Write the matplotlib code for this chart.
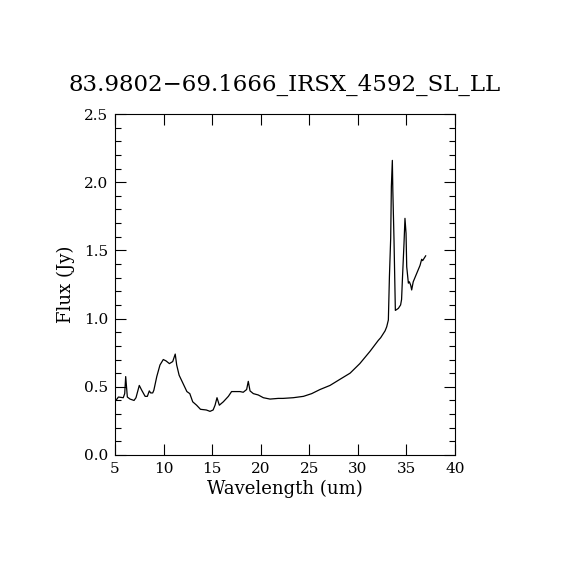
import matplotlib
matplotlib.use("Agg")
import matplotlib.pyplot as plt
from matplotlib.ticker import MultipleLocator

# spectrum
wave = [5.0, 5.2, 5.35, 5.85, 6.0, 6.1, 6.27, 6.55, 6.96, 7.16, 7.5, 7.75,
        8.1, 8.33, 8.53, 8.67, 8.88, 9.0, 9.3, 9.63, 9.97, 10.25, 10.6,
        10.94, 11.2, 11.35, 11.6, 12.1, 12.4, 12.7, 13.0, 13.4, 13.8, 14.4,
        14.78, 15.1, 15.3, 15.5, 15.74, 16.15, 16.67, 17.0, 17.87, 18.2,
        18.55, 18.72, 18.9, 19.24, 19.75, 20.27, 20.96, 21.8, 22.3, 23.35,
        24.4, 25.25, 26.1, 27.13, 28.16, 29.2, 30.2, 31.25, 32.1, 32.35,
        32.8, 32.97, 33.14, 33.25, 33.38, 33.45, 33.55, 33.6, 33.72, 33.86,
        34.17, 34.4, 34.5, 34.6, 34.75, 34.85, 34.96, 35.03, 35.2, 35.3,
        35.44, 35.54, 35.7, 36.05, 36.4, 36.57, 36.67, 36.98]
flux = [0.40, 0.41, 0.425, 0.42, 0.45, 0.575, 0.425, 0.41, 0.40, 0.42,
        0.51, 0.475, 0.43, 0.43, 0.47, 0.455, 0.455, 0.475, 0.575, 0.66,
        0.70, 0.69, 0.67, 0.685, 0.74, 0.66, 0.585, 0.51, 0.465, 0.45,
        0.39, 0.365, 0.335, 0.33, 0.32, 0.33, 0.365, 0.42, 0.365, 0.39,
        0.43, 0.465, 0.465, 0.46, 0.48, 0.54, 0.47, 0.45, 0.44, 0.42,
        0.41, 0.415, 0.415, 0.42, 0.43, 0.45, 0.48, 0.51, 0.555, 0.60,
        0.67, 0.76, 0.84, 0.86, 0.91, 0.94, 0.99, 1.31, 1.59, 1.97, 2.16,
        1.94, 1.58, 1.06, 1.075, 1.10, 1.14, 1.31, 1.55, 1.735, 1.625,
        1.38, 1.26, 1.27, 1.245, 1.21, 1.27, 1.33, 1.39, 1.435, 1.425, 1.46]

title = "83.9802\u221269.1666_IRSX_4592_SL_LL"
font = "DejaVu Serif"

fig = plt.figure(figsize=(5.7, 5.7), dpi=100)
ax = fig.add_axes([115 / 570, 115 / 570, 340 / 570, 341 / 570])
ax.plot(wave, flux, color="black", linewidth=0.9)

ax.set_xlim(5, 40)
ax.set_ylim(0, 2.5)
ax.xaxis.set_major_locator(MultipleLocator(5))
ax.yaxis.set_major_locator(MultipleLocator(0.5))
ax.yaxis.set_minor_locator(MultipleLocator(0.1))
ax.yaxis.set_major_formatter(matplotlib.ticker.FormatStrFormatter("%.1f"))
ax.tick_params(which="both", direction="in", top=True, right=True,
               width=0.8, labelsize=11, pad=5)
ax.tick_params(which="major", length=8)
ax.tick_params(which="minor", length=4)
for lab in ax.get_xticklabels() + ax.get_yticklabels():
    lab.set_family(font)
for s in ax.spines.values():
    s.set_linewidth(0.8)

ax.set_xlabel("Wavelength (um)", family=font, fontsize=13, labelpad=3)
ax.set_ylabel("Flux (Jy)", family=font, fontsize=13, labelpad=6)
fig.text(0.5, 1 - 85 / 570, title, family=font, fontsize=16.5,
         ha="center", va="center")

fig.savefig("out.png", dpi=100)
